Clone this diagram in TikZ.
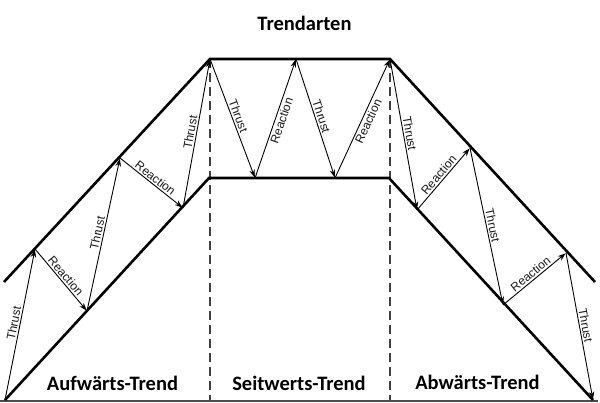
\documentclass[tikz,border=0pt]{standalone}
\usepackage{fontspec}
\setmainfont{Liberation Sans}
\newfontfamily\calib{Carlito}
\usetikzlibrary{arrows.meta}
\tikzset{
  chan/.style={line width=2.6pt, line join=miter, black},
  arr/.style={line width=0.9pt, black, -{Stealth[length=8pt,width=5.5pt]}, shorten >=0.5pt},
  lbl/.style={font=\fontsize{12}{13}\selectfont, text=black!90, inner sep=1.5pt, sloped},
  ttl/.style={font=\calib\bfseries\fontsize{20.5}{22}\selectfont, anchor=base, inner sep=0pt},
  divider/.style={line width=1.4pt, black!75, dash pattern=on 9pt off 5pt},
  baseline/.style={line width=2pt, black!70}
}
\begin{document}
\begin{tikzpicture}[x=1pt,y=-1pt]
\useasboundingbox (0,0) rectangle (600,403);
% key points
\coordinate (U0) at (4,282);
\coordinate (TL) at (210,59);
\coordinate (TR) at (390,59);
\coordinate (U1) at (595,282);
\coordinate (L0) at (5,400);
\coordinate (BL) at (209,178);
\coordinate (BR) at (389,178);
\coordinate (L1) at (593,400);
% zigzag points
\coordinate (P1) at (35,249);
\coordinate (P2) at (87,311);
\coordinate (P3) at (120,158);
\coordinate (P4) at (183,208);
\coordinate (Q1) at (255,178);
\coordinate (Q2) at (296,59);
\coordinate (Q3) at (335,178);
\coordinate (R1) at (417,210);
\coordinate (R2) at (470,148);
\coordinate (R3) at (503,305);
\coordinate (R4) at (566,253);
% bottom line and dividers
\coordinate (B0) at (0,400.5);
\coordinate (B1) at (598,400.5);
\coordinate (D1) at (210,400);
\coordinate (D2) at (390,400);
\draw[baseline] (B0) -- (B1);
\draw[divider] (TL) -- (D1);
\draw[divider] (TR) -- (D2);
% channel
\draw[chan] (U0) -- (TL) -- (TR) -- (U1);
\draw[chan] (L0) -- (BL) -- (BR) -- (L1);
% left section
\draw[arr] (L0) -- node[lbl,above]{Thrust} (P1);
\draw[arr] (P1) -- node[lbl,above]{Reaction} (P2);
\draw[arr] (P2) -- node[lbl,above]{Thrust} (P3);
\draw[arr] (P3) -- node[lbl,above]{Reaction} (P4);
\draw[arr] (P4) -- node[lbl,above]{Thrust} (TL);
% middle section
\draw[arr] (TL) -- node[lbl,above]{Thrust} (Q1);
\draw[arr] (Q1) -- node[lbl,below]{Reaction} (Q2);
\draw[arr] (Q2) -- node[lbl,above]{Thrust} (Q3);
\draw[arr] (Q3) -- node[lbl,below]{Reaction} (TR);
% right section
\draw[arr] (TR) -- node[lbl,above]{Thrust} (R1);
\draw[arr] (R1) -- node[lbl,above]{Reaction} (R2);
\draw[arr] (R2) -- node[lbl,above]{Thrust} (R3);
\draw[arr] (R3) -- node[lbl,above]{Reaction} (R4);
\draw[arr] (R4) -- node[lbl,above]{Thrust} (L1);
% titles
\node[ttl] (title) at (304.5,31) {Trendarten};
\node[ttl] (up) at (112.5,391) {Aufwärts-Trend};
\node[ttl] (side) at (299,391) {Seitwerts-Trend};
\node[ttl] (down) at (477.5,389) {Abwärts-Trend};
\end{tikzpicture}
\end{document}
